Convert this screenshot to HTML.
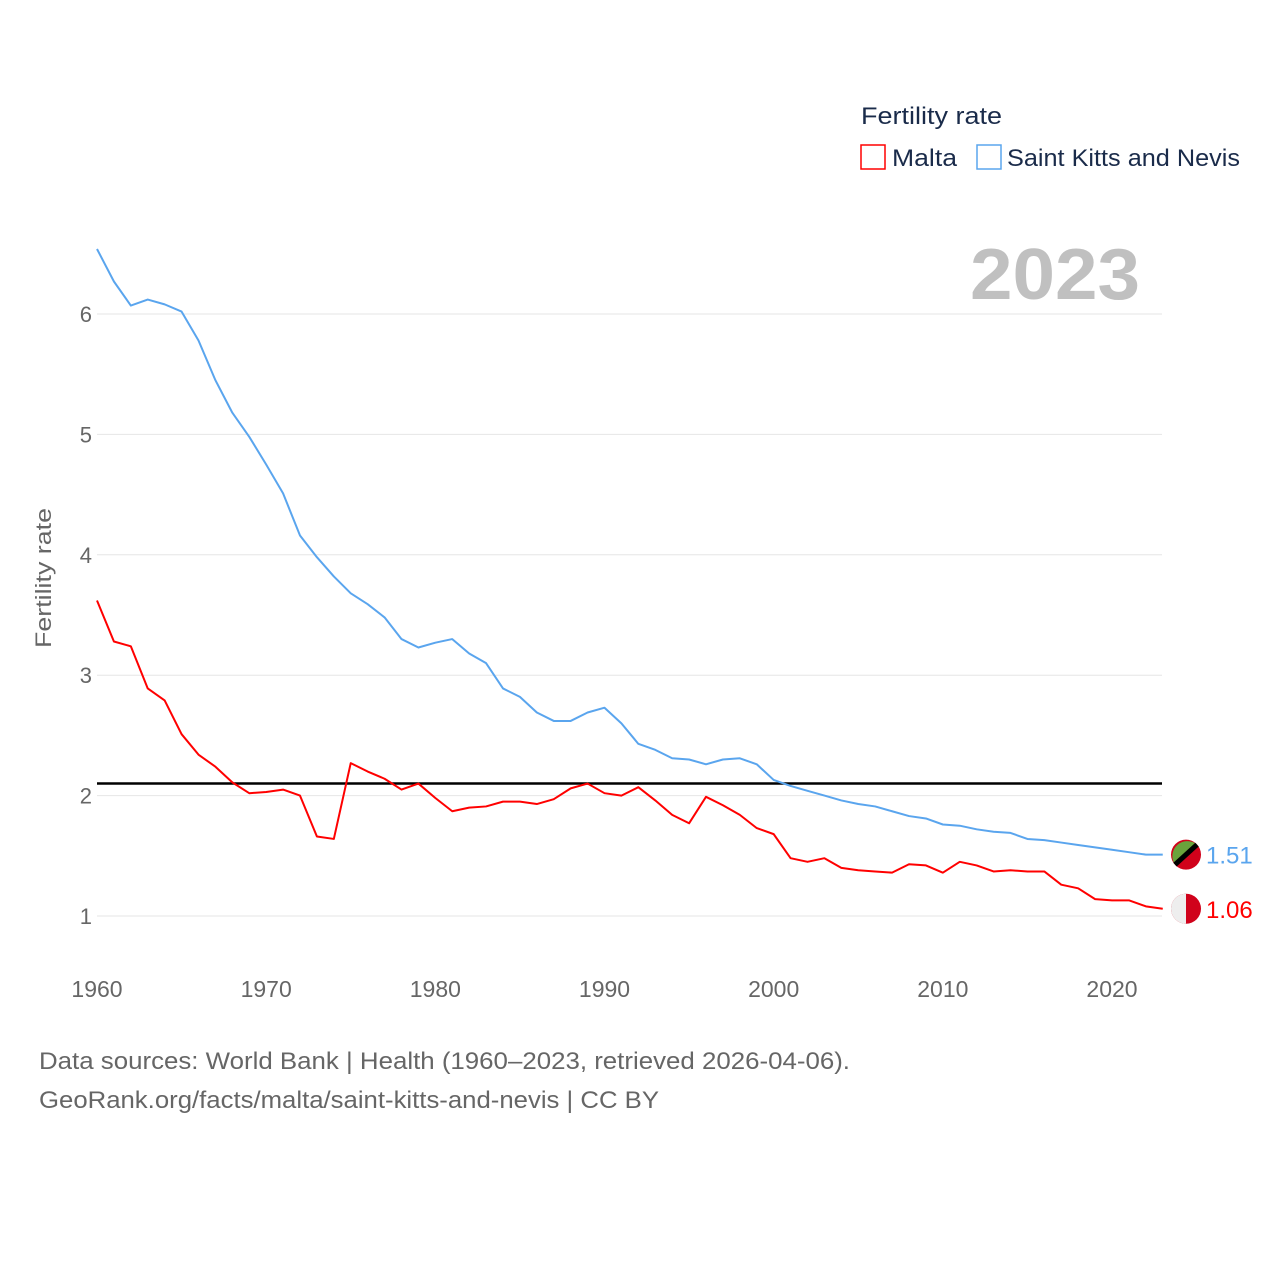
<!DOCTYPE html>
<html><head><meta charset="utf-8">
<style>
body{margin:0;background:#fff;width:1280px;height:1280px;overflow:hidden;font-family:"Liberation Sans",sans-serif}
</style></head><body>
<svg id="chart" width="1280" height="1280" xmlns="http://www.w3.org/2000/svg">
  <text x="861" y="124" font-size="24" fill="#1a2b4a" textLength="141" lengthAdjust="spacingAndGlyphs">Fertility rate</text>
  <rect x="861" y="145" width="24" height="24" fill="none" stroke="#ff0000" stroke-width="1.5"/>
  <text x="892" y="166" font-size="24" fill="#1a2b4a" textLength="65" lengthAdjust="spacingAndGlyphs">Malta</text>
  <rect x="977" y="145" width="24" height="24" fill="none" stroke="#5aa5ee" stroke-width="1.5"/>
  <text x="1007" y="166" font-size="24" fill="#1a2b4a" textLength="233" lengthAdjust="spacingAndGlyphs">Saint Kitts and Nevis</text>
  <text x="1140" y="299" font-size="72" font-weight="bold" fill="#c0c0c0" text-anchor="end" textLength="170" lengthAdjust="spacingAndGlyphs">2023</text>
  <text transform="translate(51,578) rotate(-90)" font-size="22" fill="#666" text-anchor="middle" textLength="140" lengthAdjust="spacingAndGlyphs">Fertility rate</text>
  <g id="grid"></g><g id="lines"></g>
  <text x="39" y="1069" font-size="24" fill="#666" textLength="811" lengthAdjust="spacingAndGlyphs">Data sources: World Bank | Health (1960–2023, retrieved 2026-04-06).</text>
  <text x="39" y="1108" font-size="24" fill="#666" textLength="620" lengthAdjust="spacingAndGlyphs">GeoRank.org/facts/malta/saint-kitts-and-nevis | CC BY</text>
</svg>
<script>
const years=[];for(let y=1960;y<=2023;y++)years.push(y);
const maltaValues=[3.62,3.28,3.24,2.89,2.79,2.51,2.34,2.24,2.11,2.02,2.03,2.05,2.00,1.66,1.64,2.27,2.20,2.14,2.05,2.10,1.98,1.87,1.90,1.91,1.95,1.95,1.93,1.97,2.06,2.10,2.02,2.00,2.07,1.96,1.84,1.77,1.99,1.92,1.84,1.73,1.68,1.48,1.45,1.48,1.40,1.38,1.37,1.36,1.43,1.42,1.36,1.45,1.42,1.37,1.38,1.37,1.37,1.26,1.23,1.14,1.13,1.13,1.08,1.06];
const sknValues=[6.54,6.27,6.07,6.12,6.08,6.02,5.78,5.45,5.18,4.98,4.75,4.51,4.16,3.98,3.82,3.68,3.59,3.48,3.30,3.23,3.27,3.30,3.18,3.10,2.89,2.82,2.69,2.62,2.62,2.69,2.73,2.60,2.43,2.38,2.31,2.30,2.26,2.30,2.31,2.26,2.13,2.08,2.04,2.00,1.96,1.93,1.91,1.87,1.83,1.81,1.76,1.75,1.72,1.70,1.69,1.64,1.63,1.61,1.59,1.57,1.55,1.53,1.51,1.51];
const yTicks=[1,2,3,4,5,6];
const xTicks=[1960,1970,1980,1990,2000,2010,2020];
const replacement=2.1;
const NS='http://www.w3.org/2000/svg';
const X=y=>97+(y-1960)*(1015/60);
const Y=v=>916-(v-1)*120.4;
const grid=document.getElementById('grid'),lines=document.getElementById('lines');
function mk(tag,attrs,parent,txt){const e=document.createElementNS(NS,tag);for(const k in attrs)e.setAttribute(k,attrs[k]);if(txt!==undefined)e.textContent=txt;parent.appendChild(e);return e;}
yTicks.forEach(t=>{
  const l=mk('line',{x1:97,x2:1162,y1:Y(t),y2:Y(t),stroke:'#e6e6e6','stroke-width':1},grid);
  
  
  const tx=mk('text',{x:92,y:Y(t)+8,'font-size':22,fill:'#666','text-anchor':'end'},grid,t);
  
  
});
xTicks.forEach(t=>{
  const tx=mk('text',{x:X(t),y:997,'font-size':23,fill:'#666','text-anchor':'middle'},grid,t);
  
  
});
const ref=mk('line',{x1:97,x2:1162,y1:Y(replacement),y2:Y(replacement),stroke:'#000','stroke-width':2.5},lines);


function series(vals,color,name){
  const p=mk('polyline',{points:vals.map((v,i)=>X(years[i])+','+Y(v)).join(' '),fill:'none',stroke:color,'stroke-width':2,'stroke-linejoin':'round'},lines);
  
  
  const last=vals[vals.length-1],ly=Y(last);
  const c=mk('circle',{cx:1186,cy:ly,r:15,fill:'#d0021b'},lines);
  
  
  if(name==='malta'){mk('path',{d:`M1186 ${ly-15} A15 15 0 0 0 1186 ${ly+15} Z`,fill:'#eee'},lines);}
  else{mk('path',{d:`M1175 ${ly+10} A15 15 0 0 1 1197 ${ly-10} Z`,fill:'#6aa33c'},lines);
       mk('line',{x1:1175,y1:ly+10,x2:1197,y2:ly-10,stroke:'#000','stroke-width':5},lines);}
  const t=mk('text',{x:1206,y:ly+9,'font-size':24,fill:color},lines,last.toFixed(2));
  
  
}
series(sknValues,'#5aa5ee','skn');
series(maltaValues,'#ff0000','malta');
</script>
</body></html>
